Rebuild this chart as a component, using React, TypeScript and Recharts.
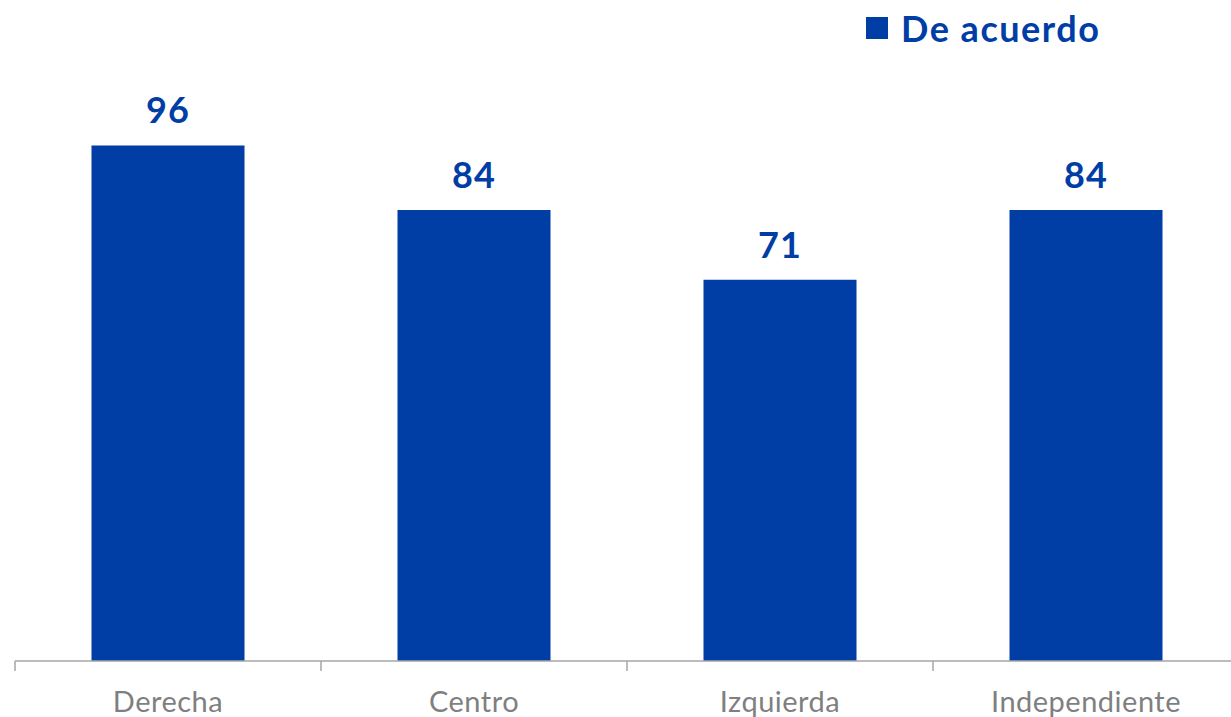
import React from 'react';
import { BarChart, Bar, XAxis, YAxis, LabelList } from 'recharts';

const categories = ['Derecha', 'Centro', 'Izquierda', 'Independiente'];
const deAcuerdo = [96, 84, 71, 84];

const BLUE = '#003DA5';
const FONT = 'Lato, "Open Sans", sans-serif';

const data = categories.map((name, i) => ({ name, deAcuerdo: deAcuerdo[i] }));

// Excel-style axis: tick marks sit on the category boundaries, labels in the middle
const CategoryTick = (props: any) => {
  const { x, y, payload } = props;
  const half = 153;
  return (
    <g>
      <line x1={x - half} y1={y - 8} x2={x - half} y2={y + 2} stroke="#A6A6A6" strokeWidth={1.5} />
      <text x={x} y={y + 43} textAnchor="middle" fill="#7F7F7F" fontSize={29} fontFamily={FONT} letterSpacing={0.5}>
        {payload.value}
      </text>
    </g>
  );
};

export default function App() {
  return (
    <div style={{ position: 'absolute', left: 0, top: 0, width: 1231, height: 717, overflow: 'hidden', background: '#fff' }}>
      <div style={{ position: 'absolute', top: 6, left: 866, display: 'flex', alignItems: 'center', fontFamily: FONT, zIndex: 2 }}>
        <span style={{ width: 22, height: 22, background: BLUE, display: 'inline-block', marginRight: 13 }} />
        <span style={{ color: BLUE, fontWeight: 700, fontSize: 36, letterSpacing: 1.5 }}>De acuerdo</span>
      </div>
      <BarChart
        width={1240}
        height={717}
        data={data}
        margin={{ top: 124, right: 1, bottom: 0, left: 15 }}
        barCategoryGap="25%"
      >
        <XAxis
          dataKey="name"
          axisLine={{ stroke: '#A6A6A6', strokeWidth: 1.5 }}
          tickLine={false}
          tick={<CategoryTick />}
          height={56}
          interval={0}
        />
        <YAxis hide domain={[0, 100]} />
        <Bar dataKey="deAcuerdo" fill={BLUE} isAnimationActive={false}>
          <LabelList
            dataKey="deAcuerdo"
            position="top"
            offset={22}
            fill={BLUE}
            fontSize={36}
            fontWeight={700}
            fontFamily={FONT}
            letterSpacing={1}
          />
        </Bar>
      </BarChart>
    </div>
  );
}
